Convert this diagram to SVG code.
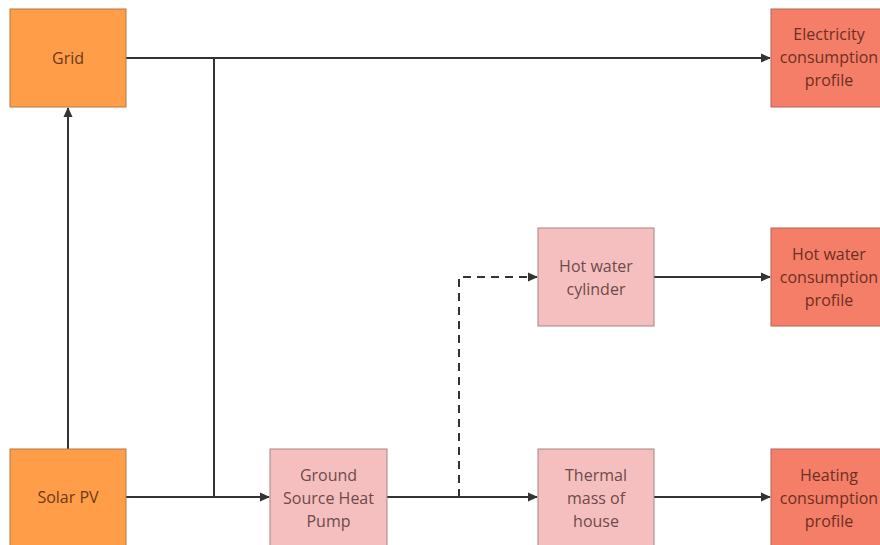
<svg xmlns="http://www.w3.org/2000/svg" width="880" height="545" viewBox="0 0 880 545">
<style>
.orange{fill:#FF9D48;stroke:#B07A45;stroke-width:1}
.pink{fill:#F5BFBF;stroke:#A88585;stroke-width:1}
.red{fill:#F47E68;stroke:#B06555;stroke-width:1}
text{font-family:"Open Sans","Noto Sans",sans-serif;font-size:16px;text-anchor:middle}
.to{fill:#6B3A18}
.tp{fill:#6E4A4A}
.tr{fill:#6E2E22}
.c{fill:none;stroke:#333;stroke-width:2}
.d{stroke-dasharray:8,6}
</style>
<defs>
<marker id="ah" markerWidth="10" markerHeight="10" refX="9" refY="5" orient="auto" markerUnits="userSpaceOnUse">
<path d="M0,0.5 L10,5 L0,9.5 Z" fill="#333"/>
</marker>
</defs>
<g id="connectors">
<path class="c" d="M126,58 H770" marker-end="url(#ah)"/>
<path class="c" d="M214,58 V497"/>
<path class="c" d="M126,497 H269" marker-end="url(#ah)"/>
<path class="c" d="M68,449 V108" marker-end="url(#ah)"/>
<path class="c" d="M387,497 H537" marker-end="url(#ah)"/>
<path class="c d" d="M459,497 V277 H537" marker-end="url(#ah)"/>
<path class="c" d="M654,277 H770" marker-end="url(#ah)"/>
<path class="c" d="M654,497 H770" marker-end="url(#ah)"/>
</g>
<g id="grid"><rect class="orange" x="10" y="9" width="116" height="98"/><text class="to" x="68" y="64">Grid</text></g>
<g id="solar"><rect class="orange" x="10" y="449" width="116" height="98"/><text class="to" x="68" y="503">Solar PV</text></g>
<g id="gshp"><rect class="pink" x="270" y="449" width="117" height="98"/><text class="tp" x="328.500" y="481">Ground</text><text class="tp" x="328.500" y="504">Source Heat</text><text class="tp" x="328.500" y="527">Pump</text></g>
<g id="thermal"><rect class="pink" x="538" y="449" width="116" height="98"/><text class="tp" x="596" y="481">Thermal</text><text class="tp" x="596" y="504">mass of</text><text class="tp" x="596" y="527">house</text></g>
<g id="hwcyl"><rect class="pink" x="538" y="228" width="116" height="98"/><text class="tp" x="596" y="272">Hot water</text><text class="tp" x="596" y="295">cylinder</text></g>
<g id="elec"><rect class="red" x="771" y="9" width="116" height="98"/><text class="tr" x="829" y="40">Electricity</text><text class="tr" x="829" y="63">consumption</text><text class="tr" x="829" y="86">profile</text></g>
<g id="hwprof"><rect class="red" x="771" y="228" width="116" height="98"/><text class="tr" x="829" y="260">Hot water</text><text class="tr" x="829" y="283">consumption</text><text class="tr" x="829" y="306">profile</text></g>
<g id="heatprof"><rect class="red" x="771" y="449" width="116" height="98"/><text class="tr" x="829" y="481">Heating</text><text class="tr" x="829" y="504">consumption</text><text class="tr" x="829" y="527">profile</text></g>
</svg>
